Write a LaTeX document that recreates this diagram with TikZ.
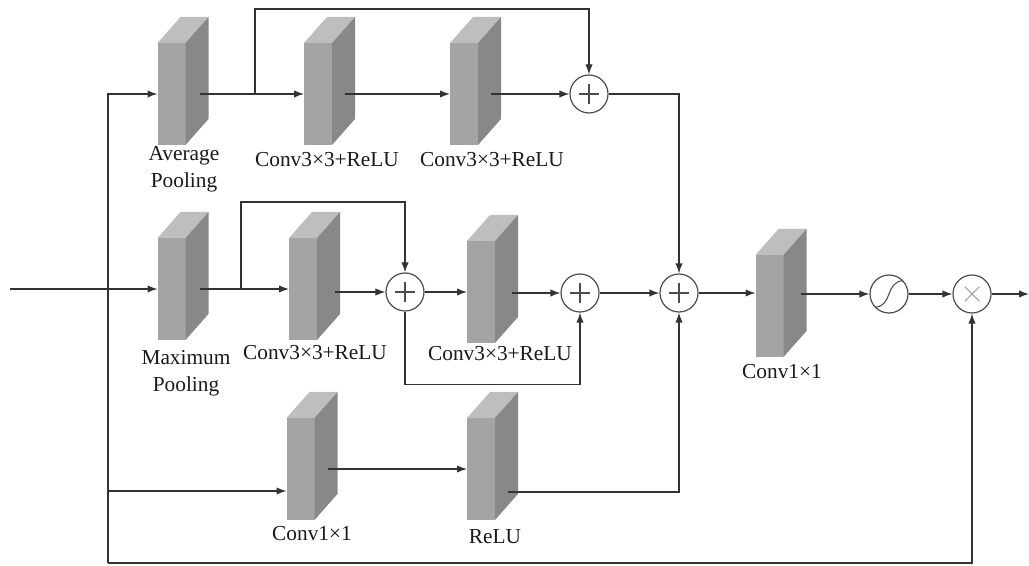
\documentclass[tikz,border=0pt]{standalone}
\usepackage{fontspec}
\setmainfont{Liberation Serif}
\usepackage{tikz}
\usetikzlibrary{arrows.meta}
\usetikzlibrary{calc}

\definecolor{facefront}{HTML}{A4A4A4}
\definecolor{faceside}{HTML}{888888}
\definecolor{facetop}{HTML}{BEBEBE}
\definecolor{wire}{HTML}{333333}
\definecolor{crossgray}{HTML}{9AA4AE}

% one grey 3D slab: front face is the named node
\newcommand{\convblock}[3]{%
  \node[front] (#1) at (#2,#3) {};
  \fill[facetop] (#1.north west) -- ++(23,-26) -- ++(28,0) -- (#1.north east) -- cycle;
  \fill[faceside] (#1.north east) -- ++(23,-26) -- ++(0,102) -- (#1.south east) -- cycle;
}

\begin{document}
\begin{tikzpicture}[x=0.75pt,y=-0.75pt,
  front/.style={fill=facefront,minimum width=21pt,minimum height=76.5pt,inner sep=0pt,outer sep=0pt},
  arr/.style={draw=wire,line width=0.9pt,-{Latex[length=7.5pt,width=5.5pt]}},
  lbl/.style={font=\fontsize{16}{20}\selectfont,align=center,text=black!90,inner sep=0pt},
  op/.style={circle,draw=black!70,line width=0.9pt,fill=white,minimum size=28.5pt,inner sep=0pt},
  addop/.style={op,path picture={\draw[line width=0.8pt]
      ([xshift=-7.5pt]path picture bounding box.center) -- ([xshift=7.5pt]path picture bounding box.center)
      ([yshift=-7.5pt]path picture bounding box.center) -- ([yshift=7.5pt]path picture bounding box.center);}},
  mulop/.style={op,path picture={\draw[crossgray,line width=0.8pt]
      ([shift={(-5.5pt,-5.5pt)}]path picture bounding box.center) -- ([shift={(5.5pt,5.5pt)}]path picture bounding box.center)
      ([shift={(-5.5pt,5.5pt)}]path picture bounding box.center) -- ([shift={(5.5pt,-5.5pt)}]path picture bounding box.center);}},
  sigop/.style={op,path picture={\draw[line width=0.8pt,shift={(path picture bounding box.center)}]
      (-10.5pt,-10pt) .. controls (3pt,-9pt) and (-3pt,9pt) .. (10.5pt,10pt);}}]
\useasboundingbox (0,0) rectangle (1029,566);

% blocks
\convblock{ap}{171.5}{94}
\convblock{cA}{318}{94}
\convblock{cB}{464}{94}
\convblock{mp}{171.5}{289}
\convblock{cC}{303}{289}
\convblock{cD}{481}{292}
\convblock{cE}{769.5}{306}
\convblock{cF}{300.5}{469}
\convblock{cG}{481}{469}

% labels
\node[lbl] (apl) at (184,169) {Average\\Pooling};
\node[lbl] (cAl) at (327,160) {Conv3×3+ReLU};
\node[lbl] (cBl) at (492,160) {Conv3×3+ReLU};
\node[lbl] (mpl) at (186,373) {Maximum\\Pooling};
\node[lbl] (cCl) at (315,353) {Conv3×3+ReLU};
\node[lbl] (cDl) at (500,354) {Conv3×3+ReLU};
\node[lbl] (cEl) at (782,372) {Conv1×1};
\node[lbl] (cFl) at (312,534) {Conv1×1};
\node[lbl] (cGl) at (495,537) {ReLU};

% operators
\node[addop] (sT) at (589,94) {};
\node[addop] (sM1) at (405,292) {};
\node[addop] (sM2) at (580,293) {};
\node[addop] (sS) at (679,293) {};
\node[sigop] (sig) at (889,294) {};
\node[mulop] (mul) at (972,294) {};

\coordinate (src) at (10,289);
\coordinate (dst) at (1029,294);
\coordinate (trunk) at (108,563);
\coordinate (jA) at (255,94);
\coordinate (jB) at (241,289);
\coordinate (fIn) at ($(cF.west)+(0,22)$);

% input and trunk
\draw[arr] (src) -- (mp.west);
\draw[arr] (trunk) -- (trunk |- ap.west) -- (ap.west);
\draw[arr] (fIn -| trunk) -- (fIn);
\draw[arr] (trunk) -| (mul.south);

% top branch
\draw[arr] ($(ap.east)+(14,0)$) -- (cA.west);
\draw[arr] (jA) -- ++(0,-85) -| (sT.north);
\draw[arr] ($(cA.east)+(13,0)$) -- (cB.west);
\draw[arr] ($(cB.east)+(13,0)$) -- (sT.west);
\draw[arr] (sT.east) -| (sS.north);

% middle branch
\draw[arr] ($(mp.east)+(14,0)$) -- (cC.west);
\draw[arr] (jB) -- ++(0,-87) -| (sM1.north);
\draw[arr] ($(cC.east)+(18,3)$) -- (sM1.west);
\draw[arr] (sM1.east) -- (cD.west);
\draw[arr] (sM1.south) -- ++(0,73) -| (sM2.south);
\draw[arr] ($(cD.east)+(17,1)$) -- (sM2.west);
\draw[arr] (sM2.east) -- (sS.west);

% bottom branch
\draw[arr] ($(cF.east)+(13,0)$) -- (cG.west);
\draw[arr] ($(cG.east)+(13,23)$) -| (sS.south);

% output
\draw[arr] (sS.east) -- (sS.east -| cE.west);
\draw[arr] ($(cE.east)+(17,-12)$) -- (sig.west);
\draw[arr] (sig.east) -- (mul.west);
\draw[arr] (mul.east) -- (dst);
\end{tikzpicture}
\end{document}
